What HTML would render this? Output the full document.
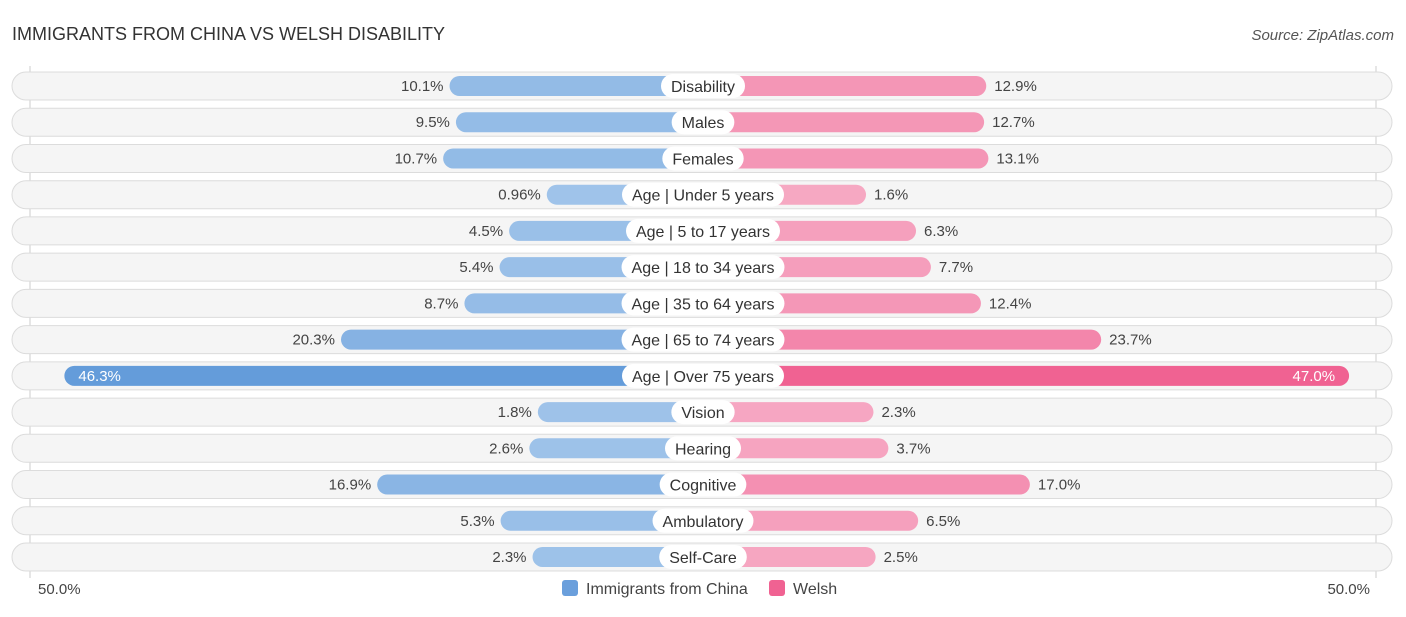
<!DOCTYPE html>
<html><head><meta charset="utf-8"><style>
body{margin:0;background:#fff;font-family:"Liberation Sans",sans-serif;}
svg text{font-family:"Liberation Sans",sans-serif;}
</style></head><body>
<svg id="c" width="1406" height="612">
<text x="12" y="40" font-size="18" fill="#333">IMMIGRANTS FROM CHINA VS WELSH DISABILITY</text>
<text x="1394" y="40" font-size="15" fill="#555" font-style="italic" text-anchor="end">Source: ZipAtlas.com</text>
<line x1="30" y1="66" x2="30" y2="578" stroke="#ccc"/>
<line x1="1376" y1="66" x2="1376" y2="578" stroke="#ccc"/>
<g id="rows"></g>
<text x="38" y="594" font-size="15" fill="#444">50.0%</text>
<text x="1370" y="594" font-size="15" fill="#444" text-anchor="end">50.0%</text>
<g>
<rect x="562" y="580" width="16" height="16" rx="3" fill="#6a9fdc"/>
<text x="586" y="594" font-size="16" fill="#444">Immigrants from China</text>
<rect x="769" y="580" width="16" height="16" rx="3" fill="#f06292"/>
<text x="793" y="594" font-size="16" fill="#444">Welsh</text>
</g>
</svg>
<script>
const categories=["Disability","Males","Females","Age | Under 5 years","Age | 5 to 17 years","Age | 18 to 34 years","Age | 35 to 64 years","Age | 65 to 74 years","Age | Over 75 years","Vision","Hearing","Cognitive","Ambulatory","Self-Care"];
const chinaValues=[10.1,9.5,10.7,0.96,4.5,5.4,8.7,20.3,46.3,1.8,2.6,16.9,5.3,2.3];
const welshValues=[12.9,12.7,13.1,1.6,6.3,7.7,12.4,23.7,47.0,2.3,3.7,17.0,6.5,2.5];
const chinaLabels=["10.1%","9.5%","10.7%","0.96%","4.5%","5.4%","8.7%","20.3%","46.3%","1.8%","2.6%","16.9%","5.3%","2.3%"];
const welshLabels=["12.9%","12.7%","13.1%","1.6%","6.3%","7.7%","12.4%","23.7%","47.0%","2.3%","3.7%","17.0%","6.5%","2.5%"];
const NS="http://www.w3.org/2000/svg";
const cx=703, y0=86, step=36.23;
function w(v){return 146+v*10.64;}
function mix(a,b,t){return "rgb("+a.map((x,i)=>Math.round(x+(b[i]-x)*t)).join(",")+")";}
const g=document.getElementById("rows");
function mk(tag,attrs){const e=document.createElementNS(NS,tag);for(const k in attrs)e.setAttribute(k,attrs[k]);g.appendChild(e);return e;}
categories.forEach((c,i)=>{
  const y=y0+i*step;
  const bg=mk("rect",{x:12,y:y-14,width:1380,height:28,rx:14,fill:"#f5f5f5",stroke:"#dcdcdc"});
  
  
  const cv=chinaValues[i], wv=welshValues[i];
  const tc=Math.min(1,cv/46), tw=Math.min(1,wv/47);
  const lw=w(cv);
  const b1=mk("rect",{x:cx-lw,y:y-10,width:lw,height:20,rx:10,fill:mix([160,196,234],[100,156,218],tc)});
  
  
  const rw=w(wv);
  const b2=mk("rect",{x:cx,y:y-10,width:rw,height:20,rx:10,fill:mix([246,170,196],[240,98,146],tw)});
  
  
  const big=cv>35;
  const t1=mk("text",{x:big?cx-lw+14:cx-lw-6,y:y+5,"font-size":15,fill:big?"#fff":"#444","text-anchor":big?"start":"end"});
  t1.textContent=chinaLabels[i];
  
  
  const bigw=wv>35;
  const t2=mk("text",{x:bigw?cx+rw-14:cx+rw+8,y:y+5,"font-size":15,fill:bigw?"#fff":"#444","text-anchor":bigw?"end":"start"});
  t2.textContent=welshLabels[i];
  
  
  const lt=mk("text",{x:cx,y:y+6,"font-size":16,fill:"#333","text-anchor":"middle"});
  lt.textContent=c;
  const tw2=lt.getComputedTextLength()+20;
  const pill=mk("rect",{x:cx-tw2/2,y:y-12,width:tw2,height:24,rx:12,fill:"#fff"});
  
  
  g.appendChild(lt);
  
  
});
</script>
</body></html>
